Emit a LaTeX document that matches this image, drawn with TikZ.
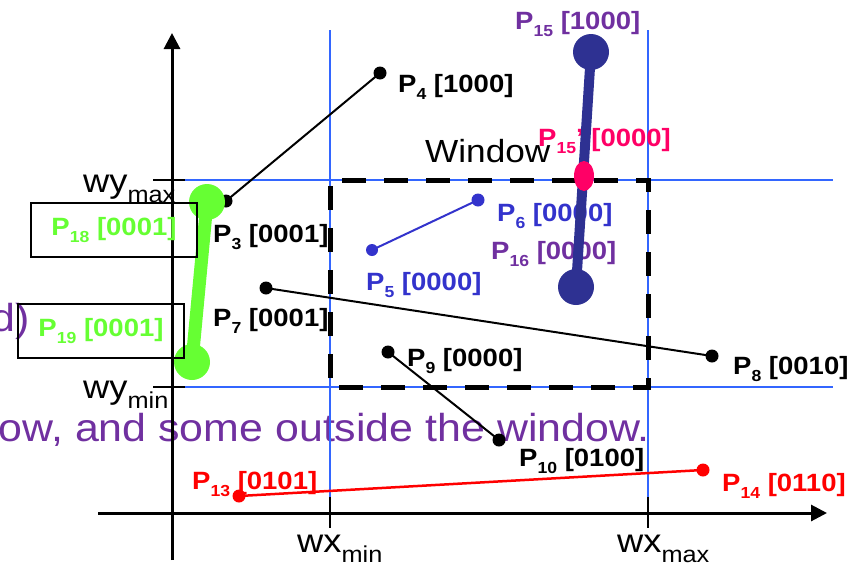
\documentclass[tikz,border=0pt]{standalone}
\usepackage{fontspec}
\setmainfont{Liberation Sans}
\usetikzlibrary{arrows.meta,shapes.geometric}
\definecolor{gridblue}{HTML}{3366FF}
\definecolor{ptgreen}{HTML}{66FF33}
\definecolor{ptnavy}{HTML}{2E3192}
\definecolor{ptblue}{HTML}{3333CC}
\definecolor{ptpurple}{HTML}{7030A0}
\definecolor{ptpink}{HTML}{FF0066}
\definecolor{ptred}{HTML}{FF0000}
\newcommand{\sx}[1]{\scalebox{1.1}[1]{#1}}
\newcommand{\lsub}[1]{\raisebox{-7pt}{\fontsize{16}{16}\selectfont #1}}
\newcommand{\asub}[1]{\raisebox{-10pt}{\fontsize{23}{23}\selectfont #1}}
\tikzset{
  gridline/.style={gridblue, line width=1.2pt},
  axisline/.style={black, line width=3pt, -{Triangle[length=16pt,width=16pt]}},
  tick/.style={black, line width=1.5pt},
  windowbox/.style={black, line width=5pt, dash pattern=on 24pt off 18pt, dash phase=-9pt},
  seg/.style={line width=2pt},
  dot/.style={circle, fill, inner sep=0pt, minimum size=#1},
  dot/.default=13pt,
  lbl/.style={font=\bfseries\fontsize{25}{25}\selectfont, inner sep=0pt, anchor=base west},
  axlbl/.style={font=\fontsize{33}{33}\selectfont, inner sep=0pt, anchor=base west},
  boxed/.style={draw=black, line width=1.5pt, minimum width=166pt, minimum height=54pt, inner sep=0pt},
  note/.style={ptpurple, font=\fontsize{39}{39}\selectfont, inner sep=0pt, anchor=base east}
}
\begin{document}
\begin{tikzpicture}[x=1pt,y=-1pt]
\useasboundingbox (0,0) rectangle (860,568);
\clip (0,0) rectangle (860,568);
% purple background text
\node[note] (t1) at (30,331) {\sx{d)}};
\node[note] (t2) at (650,441) {\sx{ow, and some outside the window.}};
% grid lines
\draw[gridline] (330,30) -- (330,497);
\draw[gridline] (648,30) -- (648,497);
\draw[gridline] (180,180) -- (833,180);
\draw[gridline] (185,387) -- (833,387);
% window
\coordinate (W1) at (330,387);
\coordinate (W2) at (648,180);
\draw[windowbox] (W1) rectangle (W2);
\node[font=\fontsize{32}{32}\selectfont, inner sep=0pt, anchor=base west] (wlbl) at (425,162) {\sx{Window}};
% axes
\coordinate (O1) at (172,560);
\coordinate (YT) at (172,33);
\coordinate (O2) at (98,513);
\coordinate (XT) at (827,513);
\draw[axisline] (O1) -- (YT);
\draw[axisline] (O2) -- (XT);
\draw[tick] (330,497) -- (330,528);
\draw[tick] (648,497) -- (648,528);
\draw[tick] (153,180) -- (185,180);
\draw[tick] (153,387) -- (185,387);
\node[axlbl] (wymax) at (83,192) {\sx{wy\asub{max}}};
\node[axlbl] (wymin) at (83,398) {\sx{wy\asub{min}}};
\node[axlbl] (wxmin) at (297,552) {\sx{wx\asub{min}}};
\node[axlbl] (wxmax) at (617,552) {\sx{wx\asub{max}}};
% points
\coordinate (P3) at (226,201);
\coordinate (P4) at (380,73);
\coordinate (P5) at (372,250);
\coordinate (P6) at (478,200);
\coordinate (P7) at (266,288);
\coordinate (P8) at (712,356);
\coordinate (P9) at (388,352);
\coordinate (P10) at (499,440);
\coordinate (P13) at (239,496);
\coordinate (P14) at (703,470);
\coordinate (P15) at (591,52);
\coordinate (P16) at (576,287);
\coordinate (P15p) at (584,176);
\coordinate (P18) at (207,202);
\coordinate (P19) at (192,362);
% labels lying under the thick segment
\node[lbl, ptblue] (l6) at (497,221) {\sx{P\lsub{6} [0000]}};
\node[lbl, ptpurple] (l16) at (491,259) {\sx{P\lsub{16} [0000]}};
\node[lbl, ptpink] (l15p) at (538,146) {\sx{P\lsub{15}’ [0000]}};
% segments
\draw[seg, black] (P3) -- (P4);
\draw[seg, black] (P7) -- (P8);
\draw[seg, black] (P9) -- (P10);
\draw[seg, ptblue] (P5) -- (P6);
\draw[seg, ptred, line width=2.5pt] (P13) -- (P14);
\draw[ptnavy, line width=10pt] (P15) -- (P16);
\draw[ptgreen, line width=13pt] (P18) -- (P19);
% dots
\node[dot, black] (d3) at (P3) {};
\node[dot, black] (d4) at (P4) {};
\node[dot, black] (d7) at (P7) {};
\node[dot, black] (d8) at (P8) {};
\node[dot, black] (d9) at (P9) {};
\node[dot, black] (d10) at (P10) {};
\node[dot=12pt, ptblue] (d5) at (P5) {};
\node[dot=13pt, ptblue] (d6) at (P6) {};
\node[dot, ptred] (d13) at (P13) {};
\node[dot, ptred] (d14) at (P14) {};
\node[dot=36pt, ptnavy] (d15) at (P15) {};
\node[dot=36pt, ptnavy] (d16) at (P16) {};
\node[ellipse, fill=ptpink, inner sep=0pt, minimum width=20pt, minimum height=30pt] (d15p) at (P15p) {};
\node[dot=36pt, ptgreen] (d18) at (P18) {};
\node[dot=36pt, ptgreen] (d19) at (P19) {};
% labels
\node[lbl] (l4) at (398,92) {\sx{P\lsub{4} [1000]}};
\node[lbl] (l3) at (213,242) {\sx{P\lsub{3} [0001]}};
\node[lbl] (l7) at (213,326) {\sx{P\lsub{7} [0001]}};
\node[lbl, ptblue] (l5) at (366,290) {\sx{P\lsub{5} [0000]}};
\node[lbl] (l9) at (407,366) {\sx{P\lsub{9} [0000]}};
\node[lbl] (l8) at (733,374) {\sx{P\lsub{8} [0010]}};
\node[lbl] (l10) at (519,466) {\sx{P\lsub{10} [0100]}};
\node[lbl, ptred] (l13) at (192,489) {\sx{P\lsub{13} [0101]}};
\node[lbl, ptred] (l14) at (722,491) {\sx{P\lsub{14} [0110]}};
\node[lbl, ptpurple] (l15) at (515,29) {\sx{P\lsub{15} [1000]}};
\node[boxed, text=ptgreen, font=\bfseries\fontsize{25}{25}\selectfont] (l18) at (114,230) {\sx{P\lsub{18} [0001]}};
\node[boxed, text=ptgreen, font=\bfseries\fontsize{25}{25}\selectfont] (l19) at (101,331) {\sx{P\lsub{19} [0001]}};
\end{tikzpicture}
\end{document}
